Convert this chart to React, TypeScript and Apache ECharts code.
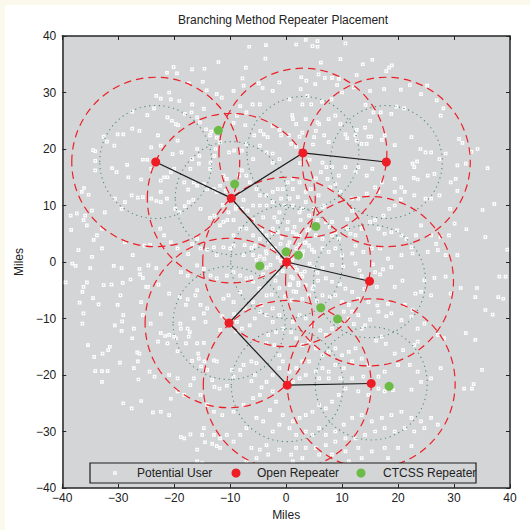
import React, { useEffect, useRef } from 'react';
import * as echarts from 'echarts';

const AXIS_MIN = -40;
const AXIS_MAX = 40;
const AXIS_STEP = 10;

const TITLE = 'Branching Method Repeater Placement';
const AXIS_NAME = 'Miles';
const LEGEND_NAMES = ['Potential User', 'Open Repeater', 'CTCSS Repeater'];

const OPEN_X = [0.1, -9.8, -23.3, 3.0, 17.9, 14.9, -10.2, 0.2, 15.2];
const OPEN_Y = [0.0, 11.3, 17.7, 19.3, 17.7, -3.4, -10.8, -21.8, -21.5];
const CTCSS_X = [-12.1, -9.2, 5.3, 0.0, 2.2, -4.7, 6.2, 9.2, 18.4];
const CTCSS_Y = [23.3, 13.8, 6.3, 1.8, 1.2, -0.7, -8.1, -10.1, -22.0];
const LINKS: [number, number][] = [[2, 1], [1, 3], [3, 4], [1, 0], [0, 5], [0, 6], [6, 7], [7, 8]];
const COVERAGE_RADIUS = 15;
const CTCSS_RADIUS = 10;

const USERS: [number, number][] = [
  [-6.6,38.1],[-3.6,38.4],[-3.7,36.0],[-12.1,35.4],[-16.8,34.1],[-14.6,34.2],[-7.2,34.4],[-20.1,34.5],[-21.3,33.5],[-19.5,33.4],
  [-7.8,32.5],[-14.9,31.9],[-17.4,31.6],[-4.9,31.6],[-4.2,30.8],[-7.6,31.2],[-14.2,30.4],[-12.4,29.7],[-11.5,29.1],[-9.4,30.3],
  [-4.7,27.9],[-6.0,27.9],[-2.4,30.3],[-1.2,31.8],[-23.2,29.4],[-22.4,28.9],[-20.9,30.0],[-20.6,28.8],[-19.1,28.5],[-16.8,27.9],
  [-14.7,27.1],[-8.2,27.6],[-7.1,26.5],[-27.5,26.6],[-24.8,26.0],[-23.6,27.2],[-21.2,25.6],[-20.4,25.0],[-19.7,24.4],[-19.3,24.2],
  [-15.9,25.6],[-18.1,26.2],[-16.9,26.5],[-15.4,24.7],[-14.3,23.5],[-13.4,23.1],[-13.6,22.4],[-12.4,22.0],[-9.4,24.6],[-8.8,25.9],
  [-7.3,24.2],[-5.7,22.4],[-4.6,23.2],[-4.0,22.6],[-3.3,22.1],[-2.4,24.1],[-1.2,23.4],[-0.9,22.4],[-4.7,20.6],[-3.5,19.4],
  [-2.4,19.2],[-1.2,18.2],[-2.4,17.6],[-5.9,18.2],[-7.1,20.9],[-7.9,19.7],[-9.3,19.7],[-10.2,19.4],[-11.8,21.2],[-12.6,20.0],
  [-12.8,18.8],[-13.5,17.6],[-13.6,16.5],[-15.9,20.0],[-15.5,18.8],[-15.6,17.4],[-16.8,18.2],[-17.1,16.5],[-18.7,19.4],[-19.4,21.5],
  [-20.3,19.1],[-22.4,20.6],[-22.9,22.4],[-24.1,20.3],[-25.6,18.1],[-24.8,18.1],[-26.2,23.2],[-27.5,23.6],[-29.1,22.6],[-30.1,22.6],
  [-30.7,20.6],[-32.0,21.3],[-32.6,22.2],[-34.1,19.6],[-34.5,19.8],[-34.1,17.9],[-34.1,16.2],[-31.1,16.6],[-30.3,15.9],[-28.4,17.2],
  [-28.2,15.0],[-25.9,14.6],[-24.1,16.5],[-22.4,14.4],[-21.8,15.0],[-21.2,15.0],[-20.6,15.9],[-20.0,16.5],[-18.2,14.1],[-17.5,12.8],
  [-16.5,14.1],[-15.9,13.5],[-14.7,13.8],[-14.1,12.9],[-12.9,12.9],[-11.2,15.3],[-10.6,14.7],[-11.8,13.5],[-12.4,12.4],[-8.4,15.3],
  [-7.9,16.2],[-7.1,15.3],[-6.5,14.1],[-5.3,12.9],[-4.7,11.8],[-3.5,11.8],[-2.4,12.4],[-1.5,12.9],[-0.6,12.9],[-0.9,11.2],
  [-2.4,10.6],[-3.5,10.0],[-4.7,10.0],[-5.9,10.0],[-6.9,9.1],[-7.9,9.4],[-9.0,9.4],[-10.3,8.8],[-11.2,7.1],[-10.5,7.4],
  [-9.4,7.4],[-11.8,6.5],[-12.8,8.2],[-13.6,7.8],[-15.3,9.4],[-16.6,11.0],[-17.4,10.6],[-18.1,9.9],[-19.1,8.8],[-19.8,9.4],
  [-21.3,11.2],[-22.4,10.6],[-22.4,12.4],[-23.2,10.8],[-24.1,11.2],[-25.6,11.5],[-26.5,11.4],[-27.6,11.8],[-28.8,10.6],[-29.4,9.4],
  [-30.6,11.2],[-32.4,8.8],[-34.7,9.1],[-35.9,8.2],[-36.2,7.4],[-35.6,6.5],[-36.5,12.4],[-36.1,13.1],[-35.3,11.9],[-38.5,8.2],
  [-38.4,5.7],[-37.4,8.6],[-33.8,4.7],[-32.9,5.9],[-34.4,3.9],[-28.8,3.5],[-27.4,1.2],[-25.3,2.9],[-24.3,3.0],[-22.5,5.9],
  [-21.8,4.7],[-20.6,3.5],[-19.4,2.4],[-17.5,1.4],[-16.8,3.2],[-15.9,4.1],[-15.3,2.4],[-14.1,2.2],[-12.9,2.6],[-12.4,1.2],
  [-11.2,2.6],[-10.0,2.4],[-9.4,2.9],[-7.6,1.2],[-7.4,3.0],[-6.2,2.5],[-5.9,1.2],[-4.7,1.0],[-3.5,1.5],[-2.4,2.4],
  [-4.7,4.1],[-3.5,4.7],[-5.9,4.7],[-7.1,5.9],[-8.2,5.9],[-9.4,4.7],[-2.4,5.9],[-1.5,7.1],[-1.2,8.8],[-0.3,10.0],
  [-37.1,2.1],[-34.7,0.9],[-32.9,2.4],[-5.9,7.4],[-4.1,7.9],[-2.1,7.9],[-1.5,5.3],
  [1.8,38.5],[3.5,39.3],[5.6,39.1],[5.6,38.1],[4.7,38.2],[10.6,38.7],[9.7,35.9],[15.4,35.8],[13.7,35.0],[18.9,34.8],
  [18.4,34.4],[17.9,33.8],[12.6,33.1],[6.2,35.3],[2.7,32.7],[3.6,32.1],[5.8,33.2],[6.9,32.6],[8.2,32.6],[9.4,32.4],
  [9.1,31.3],[5.2,31.5],[2.6,30.6],[3.8,29.4],[0.6,28.8],[2.9,27.9],[4.5,27.9],[6.4,28.4],[8.1,28.8],[10.0,30.0],
  [12.1,30.9],[15.0,30.3],[17.5,30.6],[20.5,30.5],[22.1,31.3],[24.1,29.7],[25.2,31.2],[26.9,28.6],[28.1,27.2],[27.6,25.9],
  [21.1,27.2],[19.7,27.5],[18.8,26.2],[16.9,26.5],[15.6,26.5],[14.2,27.8],[15.0,25.0],[14.1,23.8],[12.6,23.4],[12.4,22.4],
  [10.6,22.6],[8.8,25.9],[9.7,24.4],[7.6,25.3],[6.8,22.4],[7.6,21.2],[5.9,24.4],[5.3,23.2],[5.0,22.1],[2.9,22.9],
  [2.4,22.2],[0.9,20.9],[0.5,22.4],[1.1,26.0],[1.2,25.3],[1.8,24.4],[3.5,25.3],[5.6,24.7],[10.9,21.9],[12.6,21.5],
  [13.5,20.9],[14.7,22.2],[15.2,22.2],[14.4,20.9],[17.6,22.4],[17.1,21.6],[19.4,20.7],[22.4,22.1],[24.0,20.0],[24.9,19.4],
  [25.9,19.4],[27.4,18.2],[28.5,19.2],[30.9,21.8],[31.5,21.1],[33.1,19.5],[34.2,20.0],[36.0,16.6],[32.1,17.4],[30.6,17.1],
  [23.4,17.8],[22.9,16.8],[22.6,17.4],[22.8,14.9],[23.5,14.6],[25.3,15.3],[26.5,15.6],[29.4,14.1],[30.3,14.7],[30.6,12.6],
  [29.3,9.4],[27.4,11.8],[25.9,11.2],[24.9,11.2],[22.9,11.8],[20.5,11.1],[19.4,10.0],[18.4,9.4],[17.1,14.1],[15.9,13.2],
  [12.9,11.2],[11.8,11.2],[9.7,12.4],[8.8,13.8],[8.2,16.8],[7.2,16.8],[6.5,17.6],[6.2,15.9],[5.3,14.8],[7.4,14.7],
  [7.9,13.2],[9.4,15.3],[10.6,16.8],[12.4,15.9],[12.9,16.8],[14.4,15.3],[15.4,16.5],[19.4,14.7],[20.6,13.2],[21.2,12.4],
  [19.4,12.4],[16.5,12.4],[14.4,12.1],[11.8,9.1],[10.9,7.6],[8.2,7.1],[7.1,7.1],[5.6,7.4],[3.5,10.6],[2.9,9.4],
  [2.4,8.8],[1.2,10.0],[0.6,11.2],[0.3,14.1],[1.2,14.7],[2.4,14.1],[3.5,12.4],[4.4,12.9],[5.8,11.8],[6.5,9.7],
  [7.8,6.2],[8.8,5.3],[9.4,4.1],[10.9,5.9],[11.5,5.0],[12.4,4.7],[13.5,5.9],[15.0,7.1],[15.9,7.4],[17.4,8.2],
  [16.5,5.9],[17.6,5.0],[18.8,5.3],[19.8,5.6],[20.6,4.7],[21.5,4.1],[22.4,2.6],[23.2,4.7],[24.1,6.5],[25.9,4.7],
  [26.8,3.2],[27.6,4.4],[29.1,4.7],[30.1,6.8],[32.2,5.8],[35.6,4.4],[35.1,9.2],[37.2,10.3],[39.5,2.2],[30.6,1.2],
  [28.5,1.2],[27.1,2.1],[25.3,1.8],[22.6,1.5],[20.6,1.2],[18.2,0.6],[16.8,2.4],[15.3,2.4],[13.8,1.8],[12.4,2.9],
  [11.8,1.5],[10.0,1.2],[8.8,2.4],[7.6,1.8],[6.5,2.4],[5.0,1.8],[4.1,2.9],[3.5,3.5],[2.4,4.7],[1.2,5.3],
  [0.6,3.5],[1.8,2.4],[2.9,1.2],[0.3,7.1],[1.5,6.2],[2.6,7.4],[4.1,5.9],[5.3,4.7],[6.5,4.1],[8.2,4.7],
  [6.8,10.0],[5.0,9.4],[4.1,8.2],[1.2,12.9],[2.1,11.5],
  [-38.2,-0.3],[-37.6,-0.7],[-35.0,-1.1],[-30.8,-0.7],[-29.4,-1.1],[-26.2,-1.2],[-26.1,-2.2],[-25.6,-2.8],[-23.2,-1.1],[-24.6,-0.6],
  [-27.8,-3.1],[-29.2,-3.7],[-31.2,-4.0],[-32.6,-4.1],[-35.6,-3.6],[-36.2,-4.4],[-36.4,-5.3],[-39.4,-3.6],[-34.5,-6.4],[-33.5,-7.5],
  [-36.9,-7.2],[-36.2,-9.1],[-36.4,-10.9],[-29.6,-5.9],[-30.1,-7.6],[-29.1,-9.4],[-29.3,-10.5],[-29.4,-12.2],[-30.6,-11.2],[-31.5,-15.0],
  [-31.8,-15.6],[-32.8,-16.2],[-34.3,-16.8],[-35.4,-14.7],[-34.1,-19.3],[-32.9,-19.3],[-31.9,-19.3],[-32.9,-21.2],[-29.7,-17.8],[-29.1,-25.0],
  [-27.6,-25.9],[-25.9,-24.6],[-26.4,-20.8],[-27.2,-18.8],[-26.5,-17.6],[-27.5,-13.5],[-27.2,-11.8],[-26.6,-16.0],[-26.2,-16.2],[-25.6,-9.4],
  [-25.9,-7.1],[-25.0,-4.4],[-24.7,-4.4],[-22.8,-4.0],[-20.9,-5.6],[-22.4,-9.2],[-24.2,-10.9],[-22.9,-14.1],[-22.4,-12.6],[-21.6,-13.1],
  [-20.9,-12.9],[-20.0,-13.2],[-19.7,-13.5],[-19.4,-15.8],[-17.9,-14.4],[-17.4,-13.2],[-17.2,-12.4],[-17.6,-11.8],[-18.8,-11.8],[-18.9,-10.9],
  [-19.0,-6.2],[-17.6,-6.6],[-17.9,-7.6],[-16.2,-5.9],[-15.9,-5.0],[-15.3,-7.6],[-14.7,-9.1],[-14.1,-8.2],[-14.4,-10.6],[-16.5,-10.0],
  [-15.9,-14.4],[-14.7,-14.3],[-15.7,-16.2],[-15.6,-17.1],[-16.8,-17.5],[-14.6,-17.6],[-14.1,-19.1],[-15.2,-18.5],[-12.9,-17.4],[-12.4,-17.6],
  [-13.2,-20.9],[-12.8,-22.1],[-11.9,-22.4],[-10.6,-21.9],[-9.4,-20.3],[-9.7,-19.1],[-8.2,-19.1],[-7.6,-18.2],[-6.2,-17.6],[-5.3,-17.9],
  [-5.6,-20.0],[-6.2,-21.1],[-4.4,-22.2],[-3.5,-21.2],[-2.4,-20.0],[-1.2,-18.8],[-0.6,-17.6],[-1.2,-16.5],[-2.1,-14.7],[-3.5,-14.4],
  [-3.2,-12.9],[-1.8,-12.4],[-0.6,-11.8],[-2.4,-10.6],[-3.5,-9.4],[-4.7,-8.8],[-5.6,-10.0],[-6.5,-11.2],[-7.9,-11.8],[-8.8,-10.6],
  [-7.4,-8.2],[-5.9,-7.1],[-4.4,-7.6],[-2.4,-8.2],[-1.2,-9.4],[-3.5,-5.9],[-4.7,-4.7],[-5.9,-3.5],[-7.1,-2.9],[-8.2,-2.4],
  [-9.4,-1.8],[-10.6,-2.4],[-12.4,-2.9],[-13.5,-2.4],[-14.7,-1.2],[-15.9,-0.6],[-17.6,-2.4],[-18.8,-1.8],[-8.2,-5.3],[-10.3,-5.9],
  [-11.2,-6.5],[-9.4,-7.1],[-21.2,-14.4],[-24.4,-19.4],[-23.5,-20.3],[-20.9,-20.0],[-20.6,-24.2],[-22.4,-26.5],[-23.8,-26.6],[-20.9,-27.1],
  [-19.4,-22.9],[-18.2,-23.5],[-16.5,-20.6],[-17.1,-21.8],[-19.4,-20.6],[-15.3,-23.5],[-14.1,-25.3],[-12.9,-26.5],[-11.4,-27.1],[-9.4,-26.5],
  [-7.6,-25.3],[-5.9,-24.1],[-4.7,-23.5],[-2.4,-22.9],[-1.8,-24.7],[-2.9,-26.2],[-4.1,-28.2],[-5.3,-27.6],[-7.1,-29.4],[-8.2,-30.6],
  [-9.4,-31.8],[-10.6,-30.6],[-11.8,-31.2],[-12.9,-30.6],[-14.7,-29.4],[-15.0,-30.6],[-14.5,-31.9],[-13.2,-32.2],[-12.4,-32.6],[-17.1,-30.5],
  [-18.2,-31.2],[-18.8,-31.0],[-15.9,-33.2],[-11.8,-32.9],[-6.2,-32.9],[-4.7,-33.2],[-3.2,-34.1],[-1.2,-33.2],[-3.5,-32.4],[-2.4,-30.0],
  [-1.2,-28.8],[-0.6,-27.1],[-15.9,-35.3],[-15.0,-35.6],[-7.1,-35.3],[-5.3,-34.7],
  [0.6,-0.6],[1.9,-1.4],[2.6,-2.1],[3.3,-1.7],[4.9,-1.0],[6.5,-1.1],[8.2,-0.5],[10.2,-0.8],[12.4,-0.3],[13.1,-1.5],
  [15.5,-0.4],[15.9,-1.8],[17.3,-1.3],[18.8,-0.9],[19.4,-4.4],[20.8,-3.3],[23.1,-5.6],[24.1,-5.3],[25.9,-5.9],[24.7,-3.2],
  [26.5,-2.8],[28.5,-2.6],[29.4,-5.6],[31.2,-4.6],[34.1,-4.6],[33.8,-6.2],[35.6,-8.5],[36.9,-9.3],[37.9,-6.2],[38.8,-6.5],
  [38.1,-2.6],[39.2,-2.6],[32.1,-12.6],[33.8,-13.8],[35.0,-19.1],[31.8,-22.4],[33.2,-22.4],[33.5,-21.6],[22.4,-22.6],[19.1,-22.7],
  [25.9,-20.6],[27.6,-18.8],[28.2,-13.5],[27.1,-12.9],[23.5,-14.1],[22.9,-14.7],[20.9,-15.6],[19.4,-16.2],[17.8,-14.5],[17.1,-13.2],
  [16.1,-13.9],[14.1,-11.2],[15.0,-10.2],[16.5,-8.8],[17.9,-9.6],[18.8,-9.1],[20.6,-10.3],[22.4,-9.7],[23.5,-11.8],[24.7,-10.9],
  [22.6,-8.5],[21.2,-7.6],[18.2,-7.4],[16.3,-7.7],[14.7,-7.1],[12.9,-6.5],[11.8,-5.3],[10.6,-4.7],[9.6,-3.9],[8.2,-3.5],
  [7.1,-2.9],[5.7,-3.3],[4.7,-4.7],[3.5,-4.1],[2.2,-3.7],[1.2,-2.9],[0.6,-4.1],[1.8,-5.3],[1.0,-6.8],[2.9,-6.5],
  [4.1,-5.9],[5.5,-6.9],[6.5,-5.9],[7.8,-6.2],[8.8,-5.9],[10.0,-7.1],[11.2,-7.6],[11.8,-8.8],[12.9,-9.4],[13.5,-11.8],
  [12.1,-11.0],[11.2,-10.0],[10.3,-8.8],[9.4,-10.6],[8.2,-11.8],[7.1,-12.9],[6.1,-12.1],[4.7,-11.2],[3.5,-10.0],[2.4,-9.4],
  [1.2,-10.6],[0.9,-12.4],[1.8,-13.5],[2.9,-14.7],[4.1,-14.1],[5.3,-15.3],[6.5,-16.5],[7.6,-15.9],[8.8,-15.3],[10.0,-16.5],
  [11.2,-15.9],[12.4,-15.3],[13.5,-17.1],[14.7,-18.2],[11.8,-17.6],[10.3,-18.8],[8.8,-18.2],[7.6,-19.4],[6.5,-18.8],[5.3,-19.4],
  [4.1,-17.6],[2.9,-17.6],[1.8,-18.8],[0.6,-19.4],[1.2,-21.2],[2.4,-20.6],[3.5,-20.0],[5.9,-20.6],[7.6,-20.6],[9.7,-20.6],
  [11.8,-20.6],[13.8,-20.3],[16.5,-20.3],[17.6,-19.4],[20.0,-18.2],[22.1,-18.2],[23.5,-19.4],[24.1,-21.2],[17.6,-22.9],[16.5,-22.4],
  [14.7,-23.5],[12.9,-22.9],[10.6,-22.4],[9.4,-23.5],[8.2,-24.7],[7.1,-25.9],[5.9,-25.3],[4.7,-26.5],[3.5,-27.1],[2.4,-27.6],
  [1.2,-28.2],[0.6,-29.4],[1.8,-30.6],[3.5,-30.0],[4.7,-30.6],[5.9,-29.4],[7.1,-30.6],[8.8,-30.0],[10.3,-28.8],[11.8,-27.6],
  [13.5,-27.1],[15.3,-28.2],[17.1,-27.6],[18.8,-27.1],[20.6,-26.5],[22.4,-27.6],[24.1,-28.2],[25.9,-27.6],[27.1,-28.8],[24.7,-29.4],
  [22.9,-30.0],[21.2,-29.4],[19.4,-30.0],[17.6,-29.4],[15.9,-30.0],[14.1,-30.6],[12.4,-31.2],[10.6,-31.2],[8.8,-31.8],[7.1,-32.4],
  [5.3,-32.9],[3.5,-32.9],[1.8,-32.9],[0.9,-34.1],[2.9,-34.7],[5.9,-34.1],[8.2,-34.1],[10.6,-33.5],[12.9,-32.9],[15.3,-33.5],
  [17.6,-32.9],[20.0,-32.9],[22.4,-32.6],[13.5,-34.7],[11.2,-35.3],[12.4,-35.9],[1.2,-35.3],[18.2,-34.7],
  [-1.5,0.8],[-2.8,-0.5],[-0.6,-1.6],[1.1,0.4],[0.3,2.9],[-3.6,1.9],[-4.1,-2.2],[-1.9,-3.3],[0.9,-2.6],[2.7,0.9],
  [3.3,3.4],[-0.8,4.3],[-2.4,5.1],[1.8,4.9],[4.2,-0.3],[-5.3,0.4],[-3.1,3.6],[-1.2,-4.6],[2.2,-4.1],[4.6,2.2],
  [-4.8,-4.7],[-0.2,-6.1],[3.8,5.6],[-2.0,2.4],[0.5,1.5],[-0.9,0.2],[1.6,-1.0],[-3.5,-1.0],[2.9,-2.6],[-1.7,-2.0],
  [5.6,-1.9],[-6.2,-2.7],[-5.6,2.9],[0.2,5.8],[1.3,-5.2],[4.9,-4.3],[-2.6,-5.8],[-4.4,5.5],[3.0,1.9],[-1.0,3.2],
  [2.4,3.1],[0.7,-3.9],[-3.9,0.6],[-8.5,12.2],[-11.3,10.1],[-10.8,12.6],[-9.0,9.8],[-7.6,11.0],[13.5,-2.5],[16.2,-4.4],
  [14.0,-4.8],[16.8,-2.2],[-8.9,-12.3],[-11.4,-9.6],[-9.3,-9.2],[-11.8,-12.0],[4.2,18.1],[1.8,20.4],[2.5,17.5],[4.8,20.8]
];

const FONT = '"Liberation Sans", Arial, Helvetica, sans-serif';
const INK = '#222222';
const PLOT_BG = '#d4d5d7';
const USER_FILL = '#c4c5c7';

const fmt = (v: number) => (v < 0 ? '\u2212' + Math.abs(v) : String(v));

function ring(radius: number, style: any) {
  return (_p: any, api: any) => {
    const c = api.coord([api.value(0), api.value(1)]);
    const s = api.size([radius, radius]);
    return {
      type: 'ellipse',
      silent: true,
      shape: { cx: c[0], cy: c[1], rx: s[0], ry: s[1] },
      style: { fill: 'none', ...style },
    };
  };
}

export default function App() {
  const ref = useRef<HTMLDivElement>(null);
  useEffect(() => {
    document.body.style.margin = '0';
    if (!ref.current) return;
    const chart = echarts.init(ref.current, undefined, { renderer: 'svg' });
    const openPts = OPEN_X.map((x, i) => [x, OPEN_Y[i]]);
    const ctcssPts = CTCSS_X.map((x, i) => [x, CTCSS_Y[i]]);
    const axisBase: any = {
      type: 'value',
      min: AXIS_MIN,
      max: AXIS_MAX,
      interval: AXIS_STEP,
      splitLine: { show: false },
      axisLine: { show: true, onZero: false, lineStyle: { color: '#262626', width: 1.5 } },
      axisTick: { show: true, inside: true, length: 4, lineStyle: { color: '#262626', width: 1 } },
    };
    const nameStyle = { fontFamily: FONT, fontSize: 12, color: INK };
    const labelStyle = { fontFamily: FONT, fontSize: 12, color: INK, formatter: fmt };
    chart.setOption({
      animation: false,
      backgroundColor: '#ffffff',
      title: {
        text: TITLE,
        left: 173,
        top: 9,
        padding: 0,
        textStyle: { fontFamily: FONT, fontSize: 12, fontWeight: 'normal', color: INK },
      },
      grid: { left: 51, top: 31, width: 454, height: 452, show: true, backgroundColor: PLOT_BG, borderWidth: 0 },
      xAxis: [
        { ...axisBase, position: 'bottom', name: AXIS_NAME, nameLocation: 'middle', nameGap: 18, nameTextStyle: nameStyle, axisLabel: { ...labelStyle, margin: 4 } },
        { ...axisBase, position: 'top', axisLabel: { show: false } },
      ],
      yAxis: [
        { ...axisBase, position: 'left', name: AXIS_NAME, nameLocation: 'middle', nameGap: 27, nameTextStyle: nameStyle, axisLabel: { ...labelStyle, margin: 6 } },
        { ...axisBase, position: 'right', axisLabel: { show: false } },
      ],
      series: [
        {
          name: LEGEND_NAMES[0],
          type: 'scatter',
          z: 1,
          symbol: 'rect',
          symbolSize: 2.4,
          itemStyle: { color: USER_FILL, borderColor: '#ffffff', borderWidth: 1.3, opacity: 1 },
          data: USERS,
          silent: true,
        },
        {
          type: 'custom',
          z: 2,
          renderItem: ring(CTCSS_RADIUS, { stroke: '#4f8c76', lineWidth: 1.1, lineDash: [1.2, 3.6] }),
          encode: { x: 0, y: 1 },
          data: openPts,
          silent: true,
        },
        {
          type: 'custom',
          z: 2,
          renderItem: ring(COVERAGE_RADIUS, { stroke: '#ec2027', lineWidth: 1.2, lineDash: [7.5, 5] }),
          encode: { x: 0, y: 1 },
          data: openPts,
          silent: true,
        },
        {
          type: 'lines',
          coordinateSystem: 'cartesian2d',
          z: 3,
          lineStyle: { color: '#1c1c1c', width: 1.2, opacity: 1 },
          data: LINKS.map(([a, b]) => ({ coords: [[OPEN_X[a], OPEN_Y[a]], [OPEN_X[b], OPEN_Y[b]]] })),
          silent: true,
        },
        {
          name: LEGEND_NAMES[1],
          type: 'scatter',
          z: 4,
          symbol: 'circle',
          symbolSize: 9,
          itemStyle: { color: '#ee1c24', opacity: 1 },
          data: openPts,
        },
        {
          name: LEGEND_NAMES[2],
          type: 'scatter',
          z: 4,
          symbol: 'circle',
          symbolSize: 9,
          itemStyle: { color: '#6dbb47', opacity: 1 },
          data: ctcssPts,
        },
      ],
      graphic: {
        elements: [
          { type: 'rect', z: 100, shape: { x: 85, y: 458, width: 386, height: 20 }, style: { fill: PLOT_BG, stroke: '#1e1e1e', lineWidth: 1.2 } },
          { type: 'rect', z: 101, shape: { x: 108.8, y: 466.8, width: 2.4, height: 2.4 }, style: { fill: USER_FILL, stroke: '#ffffff', lineWidth: 1.3 } },
          { type: 'text', z: 101, x: 132, y: 468, style: { text: LEGEND_NAMES[0], fontFamily: FONT, fontSize: 12, fill: INK, textVerticalAlign: 'middle' } },
          { type: 'circle', z: 101, shape: { cx: 231, cy: 468, r: 4.5 }, style: { fill: '#ee1c24' } },
          { type: 'text', z: 101, x: 252, y: 468, style: { text: LEGEND_NAMES[1], fontFamily: FONT, fontSize: 12, fill: INK, textVerticalAlign: 'middle' } },
          { type: 'circle', z: 101, shape: { cx: 356, cy: 468, r: 4.5 }, style: { fill: '#6dbb47' } },
          { type: 'text', z: 101, x: 378, y: 468, style: { text: LEGEND_NAMES[2], fontFamily: FONT, fontSize: 12, fill: INK, textVerticalAlign: 'middle' } },
        ],
      },
    });
    return () => chart.dispose();
  }, []);
  return (
    <div style={{ position: 'fixed', left: 0, top: 0, width: 530, height: 530, background: '#fbf8ec' }}>
      <div ref={ref} style={{ position: 'absolute', left: 5, top: 5, width: 525, height: 525 }} />
    </div>
  );
}
